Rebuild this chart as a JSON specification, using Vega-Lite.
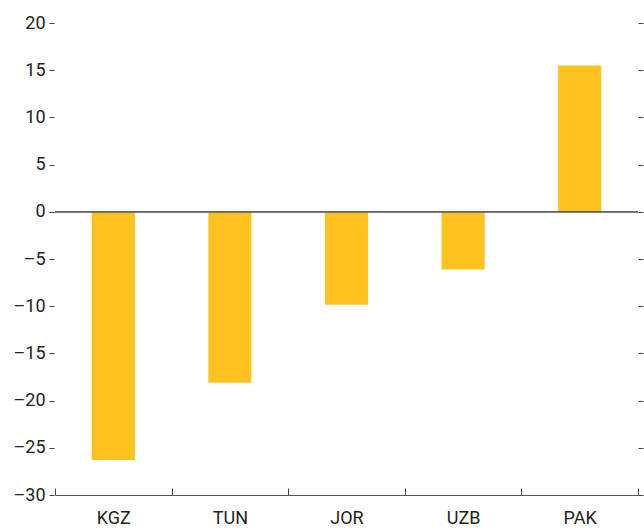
{
  "$schema": "https://vega.github.io/schema/vega-lite/v6.json",
  "autosize": "none",
  "padding": {"left": 55, "top": 23, "right": 6, "bottom": 36},
  "width": 583,
  "height": 472,
  "background": "white",
  "config": {
    "view": {"stroke": null},
    "font": "Roboto",
    "axis": {"labelFont": "Roboto", "labelColor": "#231f20", "labelFontSize": 18, "grid": false, "title": null}
  },
  "data": {"values": [
    {"country": "KGZ", "value": -26.3},
    {"country": "TUN", "value": -18.1},
    {"country": "JOR", "value": -9.85},
    {"country": "UZB", "value": -6.1},
    {"country": "PAK", "value": 15.5}
  ]},
  "layer": [
    {
      "mark": {"type": "bar", "color": "#fcc320", "width": {"band": 0.37}},
      "encoding": {
        "x": {
          "field": "country", "type": "nominal", "sort": null,
          "scale": {"paddingInner": 0, "paddingOuter": 0},
          "axis": {"labelAngle": 0, "tickBand": "extent", "tickSize": -7, "tickColor": "#444", "domainColor": "#555", "labelPadding": 21, "title": null}
        },
        "y": {
          "field": "value", "type": "quantitative",
          "scale": {"domain": [-30, 20], "nice": false, "zero": false},
          "axis": {"values": [-30, -25, -20, -15, -10, -5, 0, 5, 10, 15, 20], "labelExpr": "datum.value < 0 ? '–' + abs(datum.value) : datum.label", "domain": false, "tickSize": 5, "offset": 1, "tickColor": "#444", "labelPadding": 4, "title": null}
        }
      }
    },
    {
      "mark": {"type": "rule", "color": "#666", "strokeWidth": 1},
      "encoding": {
        "y": {
          "datum": 0, "type": "quantitative",
          "axis": {"orient": "right", "values": [-30, -25, -20, -15, -10, -5, 0, 5, 10, 15, 20], "labels": false, "domain": false, "tickSize": 5, "tickColor": "#444", "title": null}
        }
      }
    }
  ],
  "resolve": {"axis": {"y": "independent"}}
}
